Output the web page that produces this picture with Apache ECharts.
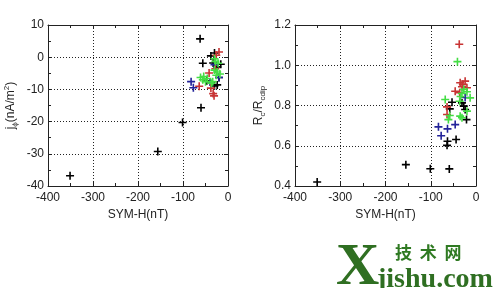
<!DOCTYPE html>
<html>
<head>
<meta charset="utf-8">
<script src="https://cdn.jsdelivr.net/npm/echarts@6/dist/echarts.min.js"></script>
<style>
html,body{margin:0;padding:0;background:#fff;}
#c{width:498px;height:288px;}
</style>
</head>
<body>
<div id="c"></div>
<script>
// ---- data: [SYM-H (nT), value] ----
var xTicks = [-400, -300, -200, -100, 0];
var jTicks = [-40, -30, -20, -10, 0, 10];
var rTicks = [0.4, 0.6, 0.8, 1.0, 1.2];

var jBlack = [[-351,-36.8],[-156,-29.3],[-101,-20.3],[-60,-15.7],[-62,5.7],[-38,0.4],[-30,1.3],[-56,-1.9],[-16,-2.2],[-24,-3.0],[-47,-7.3],[-20,-6.3],[-24,-8.6],[-30,-8.9],[-33,-1.8]];
var jRed   = [[-20,1.6],[-42,-4.9],[-64,-9.0],[-38,-9.6],[-33,-11.3],[-31,-12.0],[-28,-3.6],[-26,0.6]];
var jBlue  = [[-82,-7.6],[-77,-9.5],[-40,-7.7],[-20,-6.3],[-30,-2.3]];
var jGreen = [[-61,-6.3],[-56,-7.0],[-50,-7.6],[-28,-1.3],[-30,-4.0],[-24,-4.6],[-18,-5.2],[-26,-5.6],[-34,-7.6],[-37,-8.1],[-22,-1.9],[-46,-6.6],[-30,-0.5],[-54,-6.0]];

var rBlack = [[-351,0.42],[-155,0.506],[-101,0.486],[-59,0.485],[-44,0.631],[-63,0.622],[-64,0.602],[-53,0.816],[-31,0.813],[-27,0.797],[-58,0.783],[-24,0.780],[-21,0.730]];
var rRed   = [[-37,1.104],[-35,0.913],[-24,0.921],[-29,0.905],[-20,0.888],[-46,0.871],[-36,0.863],[-64,0.793],[-64,0.755],[-31,0.893]];
var rBlue  = [[-24,0.840],[-46,0.705],[-83,0.694],[-63,0.684],[-77,0.650]];
var rGreen = [[-41,1.018],[-27,0.880],[-31,0.860],[-20,0.868],[-13,0.838],[-68,0.830],[-36,0.821],[-20,0.772],[-58,0.750],[-61,0.730],[-35,0.747],[-31,0.739],[-34,0.845]];

// ---- styling ----
var FONT = '"Liberation Sans", Arial, sans-serif';
var TXT = '#222';
var PLUS = 'path://M4,0H6V4H10V6H6V10H4V6H0V4H4Z';
var COLORS = {black:'#000000', red:'#c83434', blue:'#23239a', green:'#44dd44'};

function xAx(grid, pos, main) {
  return {
    type:'value', gridIndex:grid, position:pos, min:xTicks[0], max:xTicks[xTicks.length-1], interval:100,
    axisLine:{show:true, onZero:false, lineStyle:{color:'#222', width:1}},
    axisTick:{show:true, inside:true, length:4, lineStyle:{color:'#222'}},
    minorTick:{show:true, splitNumber:2, length:3, lineStyle:{color:'#222'}},
    axisLabel:{show:main, fontSize:12, color:TXT, fontFamily:FONT, margin:6},
    splitLine:{show:main, lineStyle:{color:'#222', type:[1,2], width:1}},
    name: main ? 'SYM-H(nT)' : '', nameLocation:'middle', nameGap:21,
    nameTextStyle:{fontSize:12, color:TXT, fontFamily:FONT}
  };
}
function yAx(grid, pos, main, ticks, interval, fmt, name, gap) {
  return {
    type:'value', gridIndex:grid, position:pos, min:ticks[0], max:ticks[ticks.length-1], interval:interval,
    axisLine:{show:true, onZero:false, lineStyle:{color:'#222', width:1}},
    axisTick:{show:true, inside:true, length:4, lineStyle:{color:'#222'}},
    minorTick:{show:true, splitNumber:2, length:3, lineStyle:{color:'#222'}},
    axisLabel:{show:main, fontSize:12, color:TXT, fontFamily:FONT, margin:4, formatter:fmt},
    splitLine:{show:main, lineStyle:{color:'#222', type:[1,2], width:1}},
    name: main ? name : '', nameLocation:'middle', nameGap:gap, nameRotate:90,
    nameTextStyle:{
      color:TXT, fontFamily:FONT,
      rich:{
        a:{fontSize:12, lineHeight:16, color:TXT, fontFamily:FONT},
        s:{fontSize:8, lineHeight:8, verticalAlign:'bottom', color:TXT, fontFamily:FONT},
        p:{fontSize:8, lineHeight:8, verticalAlign:'top', color:TXT, fontFamily:FONT}
      }
    }
  };
}
function sc(data, color, xi, yi) {
  return {type:'scatter', data:data, xAxisIndex:xi, yAxisIndex:yi, symbol:PLUS, symbolSize:8,
    itemStyle:{color:color, opacity:1}, silent:true, animation:false};
}

var chart = echarts.init(document.getElementById('c'), null, {renderer:'canvas'});
chart.setOption({
  backgroundColor:'#ffffff',
  animation:false,
  grid:[
    {left:48, top:25, width:180, height:161},
    {left:295, top:25, width:181, height:161}
  ],
  xAxis:[ xAx(0,'bottom',true), xAx(0,'top',false), xAx(1,'bottom',true), xAx(1,'top',false) ],
  yAxis:[
    yAx(0,'left',true,jTicks,10,function(v){return String(v);},'{a|j}{s|ϕ}{a|(nA/m}{p|2}{a|)}',29),
    yAx(0,'right',false,jTicks,10,null,'',0),
    yAx(1,'left',true,rTicks,0.2,function(v){return v.toFixed(1);},'{a|R}{s|c}{a|/R}{s|cdip}',28),
    yAx(1,'right',false,rTicks,0.2,null,'',0)
  ],
  series:[
    sc(jBlack, COLORS.black, 0, 0),
    sc(jBlue, COLORS.blue, 0, 0),
    sc(jRed, COLORS.red, 0, 0),
    sc(jGreen, COLORS.green, 0, 0),
    sc(rBlack, COLORS.black, 2, 2),
    sc(rBlue, COLORS.blue, 2, 2),
    sc(rRed, COLORS.red, 2, 2),
    sc(rGreen, COLORS.green, 2, 2)
  ],
  graphic:[
    {type:'text', x:336, y:238, silent:true, style:{text:'X', font:'bold 60px "Liberation Serif", serif', fill:'#2f6f22'}},
    {type:'text', x:395, y:244, silent:true, style:{text:'技  术  网', font:'bold 17px "Noto Sans CJK SC", sans-serif', fill:'#2f7a22'}},
    {type:'text', x:377, y:266, silent:true, style:{text:'jishu.com', font:'bold 28px "Liberation Serif", serif', fill:'#2f6f22'}}
  ]
});
</script>
</body>
</html>
